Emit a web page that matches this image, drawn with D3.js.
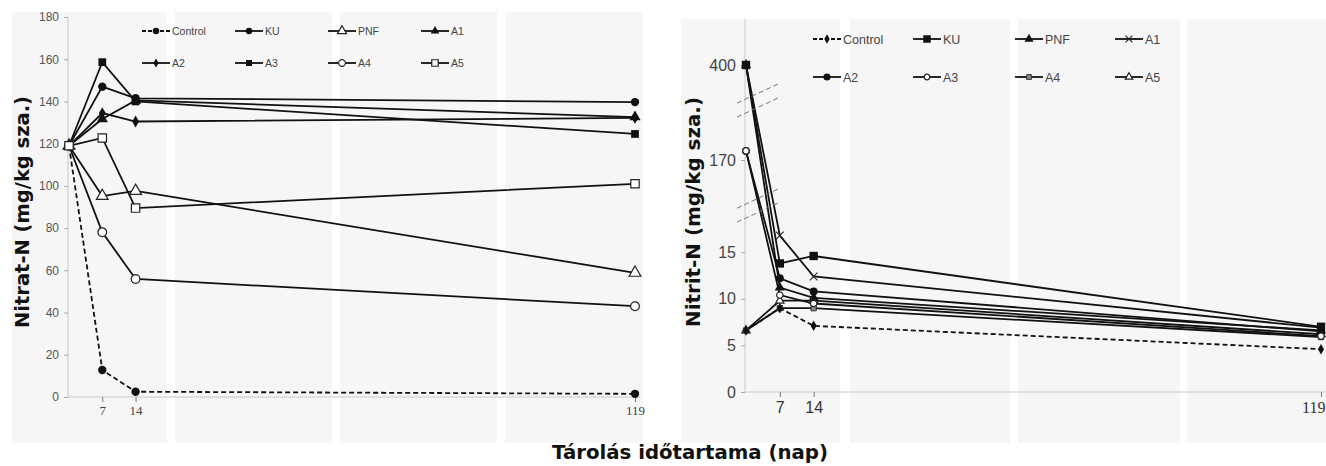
<!DOCTYPE html>
<html>
<head>
<meta charset="utf-8">
<script src="https://cdn.jsdelivr.net/npm/d3@7"></script>
<style>
body { margin: 0; background: #fff; }
svg { display: block; }
</style>
</head>
<body>
<div id="content"></div>
<script>
/* Constants */
const WIDTH = 1326;
const HEIGHT = 466;

const days = [0, 7, 14, 119];
const seriesNames = ["Control", "KU", "PNF", "A1", "A2", "A3", "A4", "A5"];

// Nitrat-N (mg/kg sza.)
const nitratControl = [119, 12.8, 2.5, 1.5];
const nitratKU      = [119, 147, 141.5, 139.7];
const nitratPNF     = [119, 95.2, 97.6, 58.8];
const nitratA1      = [119, 131.7, 140.5, 132.6];
const nitratA2      = [119, 134.5, 130.5, 132.2];
const nitratA3      = [119, 158.6, 140, 124.6];
const nitratA4      = [119, 78, 55.9, 43];
const nitratA5      = [119, 122.7, 89.5, 101];

// Nitrit-N (mg/kg sza.)
const nitritControl = [6.6, 9.0, 7.1, 4.6];
const nitritKU      = [400, 13.8, 14.6, 7.0];
const nitritPNF     = [400, 11.2, 10.1, 6.6];
const nitritA1      = [400, 16.8, 12.4, 6.9];
const nitritA2      = [192, 12.2, 10.8, 6.5];
const nitritA3      = [192, 10.4, 9.5, 6.0];
const nitritA4      = [6.6, 9.0, 9.0, 5.9];
const nitritA5      = [6.6, 9.8, 9.8, 6.2];

const nitratTicks = [0, 20, 40, 60, 80, 100, 120, 140, 160, 180];
const nitritTicks = [0, 5, 10, 15, 170, 400];
const nitritBreaks = [46, 315];   // where the axis is cut
const xTicks = [7, 14, 119];

const nitratMarkers = ["circle", "circle", "otriangle", "triangle", "diamond", "square", "ocircle", "osquare"];
const nitritMarkers = ["diamond", "square", "triangle", "times", "circle", "ocircle", "hsquare", "otriangle"];
// order the right-hand markers are painted in (last one ends up on top)
const nitritDrawOrder = [7, 6, 3, 2, 4, 5, 1, 0];

const nitratRows = [nitratControl, nitratKU, nitratPNF, nitratA1, nitratA2, nitratA3, nitratA4, nitratA5];
const nitritRows = [nitritControl, nitritKU, nitritPNF, nitritA1, nitritA2, nitritA3, nitritA4, nitritA5];

const svg = d3.select("#content").append("svg").attr("width", WIDTH).attr("height", HEIGHT);

// light grey panels (the scan shows faint white stripes between them)
const panelColor = "#f6f6f6";
[[12, 167], [175, 332], [340, 497], [505, 643]].forEach(p => {
    svg.append("rect").attr("x", p[0]).attr("y", 12).attr("width", p[1] - p[0]).attr("height", 431).attr("fill", panelColor);
});
[[681, 840], [850, 1010], [1018, 1180], [1187, 1326]].forEach(p => {
    svg.append("rect").attr("x", p[0]).attr("y", 19).attr("width", p[1] - p[0]).attr("height", 424).attr("fill", panelColor);
});

function markerPath(type, size) {
    let sym = d3.symbolCircle;
    if (type.indexOf("triangle") >= 0) sym = d3.symbolTriangle;
    else if (type.indexOf("square") >= 0) sym = d3.symbolSquare;
    else if (type == "diamond") sym = d3.symbolDiamond;
    else if (type == "times") sym = d3.symbolTimes;
    return d3.symbol().type(sym).size(size)();
}

function drawMarker(g, type, x, y, size) {
    let p = g.append("path").attr("d", markerPath(type, size)).attr("transform", "translate(" + [x, y] + ")");
    if (type == "times") {
        p.attr("fill", "none").attr("stroke", "#222").attr("stroke-width", 1.1);
    } else if (type == "hsquare") {
        p.attr("fill", "#888").attr("stroke", "#333").attr("stroke-width", 1);
    } else if (type[0] == "o") {
        p.attr("fill", "#fff").attr("stroke", "#222").attr("stroke-width", 1.2);
    } else {
        p.attr("fill", "#111");
    }
}

const leftSizes = {circle: 55, ocircle: 60, triangle: 55, otriangle: 60, square: 60, osquare: 70, diamond: 40};
const rightSizes = {diamond: 32, square: 70, triangle: 45, times: 40, circle: 50, ocircle: 32, hsquare: 28, otriangle: 30};

/* ---------- left chart: Nitrat-N ---------- */
const xL = d3.scaleLinear().domain([0, 119]).range([69, 635]);
const yL = d3.scaleLinear().domain([0, 180]).range([397, 17]);

const left = svg.append("g");

left.append("line").attr("x1", 68).attr("x2", 68).attr("y1", yL(180)).attr("y2", yL(0)).attr("stroke", "#c8c8c8");
left.append("line").attr("x1", 68).attr("x2", 640).attr("y1", yL(0)).attr("y2", yL(0)).attr("stroke", "#c8c8c8");

let yAxisL = left.append("g").attr("transform", "translate(68,0)")
    .call(d3.axisLeft(yL).tickValues(nitratTicks).tickSize(4).tickSizeOuter(0));
yAxisL.select(".domain").remove();
yAxisL.selectAll("line").attr("stroke", "#aaa");
yAxisL.selectAll("text").attr("fill", "#555").attr("x", -9)
    .style("font-family", "Liberation Sans, Arial, sans-serif").style("font-size", "12px");

let xAxisL = left.append("g").attr("transform", "translate(0," + yL(0) + ")")
    .call(d3.axisBottom(xL).tickValues(xTicks).tickSize(5).tickSizeOuter(0));
xAxisL.select(".domain").remove();
xAxisL.selectAll("line").attr("stroke", "#777");
xAxisL.selectAll("text").attr("fill", "#444").attr("y", 9)
    .style("font-family", "Liberation Serif, serif").style("font-size", "13px");

const lineL = d3.line().x((d, i) => xL(days[i])).y(d => yL(d));

nitratRows.forEach((row, k) => {
    left.append("path").attr("d", lineL(row)).attr("fill", "none")
        .attr("stroke", "#111").attr("stroke-width", 1.8)
        .attr("stroke-dasharray", k == 0 ? "5,3" : null);
});
nitratRows.forEach((row, k) => {
    row.forEach((v, i) => drawMarker(left, nitratMarkers[k], xL(days[i]), yL(v), leftSizes[nitratMarkers[k]]));
});

// legend (2 rows x 4 columns)
const legXL = [142, 235, 328, 421];
const legYL = [31, 63];
seriesNames.forEach((name, k) => {
    let lx = legXL[k % 4], ly = legYL[Math.floor(k / 4)];
    left.append("line").attr("x1", lx).attr("x2", lx + 28).attr("y1", ly).attr("y2", ly)
        .attr("stroke", "#111").attr("stroke-width", 1.8).attr("stroke-dasharray", k == 0 ? "4,2" : null);
    drawMarker(left, nitratMarkers[k], lx + 14, ly, leftSizes[nitratMarkers[k]] * 0.6);
    left.append("text").attr("x", lx + 30).attr("y", ly + 3.5).text(name)
        .attr("fill", "#444").style("font-family", "Liberation Sans, Arial, sans-serif").style("font-size", "10.5px");
});

left.append("text").attr("transform", "translate(29,212) rotate(-90)").attr("text-anchor", "middle")
    .attr("textLength", 232).attr("lengthAdjust", "spacingAndGlyphs")
    .style("font-family", "DejaVu Sans, sans-serif").style("font-weight", "bold").style("font-size", "19px")
    .attr("fill", "#111").text("Nitrat-N (mg/kg sza.)");

/* ---------- right chart: Nitrit-N with broken axis ---------- */
const xR = d3.scaleLinear().domain([0, 119]).range([746, 1321]);
const yR = d3.scaleLinear().domain([0, 19, 170, 400]).range([392, 215, 160, 65]);

const right = svg.append("g");

right.append("line").attr("x1", 745).attr("x2", 745).attr("y1", 19).attr("y2", yR(0)).attr("stroke", "#c8c8c8");
right.append("line").attr("x1", 745).attr("x2", 1326).attr("y1", yR(0)).attr("y2", yR(0)).attr("stroke", "#c8c8c8");

let yAxisR = right.append("g").attr("transform", "translate(745,0)")
    .call(d3.axisLeft(yR).tickValues(nitritTicks).tickSize(4).tickSizeOuter(0));
yAxisR.select(".domain").remove();
yAxisR.selectAll("line").attr("stroke", "#aaa");
yAxisR.selectAll("text").attr("fill", "#444").attr("x", -9)
    .style("font-family", "Liberation Sans, Arial, sans-serif").style("font-size", "16px");

let xAxisR = right.append("g").attr("transform", "translate(0," + yR(0) + ")")
    .call(d3.axisBottom(xR).tickValues(xTicks).tickSize(5).tickSizeOuter(0));
xAxisR.select(".domain").remove();
xAxisR.selectAll("line").attr("stroke", "#777");
xAxisR.selectAll("text").attr("fill", "#333").attr("y", 10)
    .style("font-family", d => d == 119 ? "Liberation Serif, serif" : "Liberation Sans, Arial, sans-serif")
    .style("font-size", "16px");
// the last label sits against the right edge, keep it inside the page
xAxisR.selectAll("text").filter(d => d == 119)
    .attr("text-anchor", "end").attr("x", WIDTH - 1 - xR(119));

const lineR = d3.line().x((d, i) => xR(days[i])).y(d => yR(d));

nitritRows.forEach((row, k) => {
    right.append("path").attr("d", lineR(row)).attr("fill", "none")
        .attr("stroke", "#111").attr("stroke-width", 1.8)
        .attr("stroke-dasharray", k == 0 ? "5,3" : null);
});
nitritDrawOrder.forEach(k => {
    nitritRows[k].forEach((v, i) => drawMarker(right, nitritMarkers[k], xR(days[i]), yR(v), rightSizes[nitritMarkers[k]]));
});

// axis break marks: two dashed diagonal strokes at each cut
nitritBreaks.forEach(b => {
    let cy = yR(b);
    [-7, 7].forEach(off => {
        right.append("line").attr("x1", 737).attr("x2", 780)
            .attr("y1", cy + off + 10).attr("y2", cy + off - 10)
            .attr("stroke", "#777").attr("stroke-width", 1).attr("stroke-dasharray", "5,3");
    });
});

const legXR = [813, 913, 1015, 1115];
const legYR = [39, 77];
seriesNames.forEach((name, k) => {
    let lx = legXR[k % 4], ly = legYR[Math.floor(k / 4)];
    right.append("line").attr("x1", lx).attr("x2", lx + 28).attr("y1", ly).attr("y2", ly)
        .attr("stroke", "#111").attr("stroke-width", 1.8).attr("stroke-dasharray", k == 0 ? "4,2" : null);
    drawMarker(right, nitritMarkers[k], lx + 14, ly, rightSizes[nitritMarkers[k]] * 0.8);
    right.append("text").attr("x", lx + 30).attr("y", ly + 4.5).text(name)
        .attr("fill", "#444").style("font-family", "Liberation Sans, Arial, sans-serif").style("font-size", "12.5px");
});

right.append("text").attr("transform", "translate(700,212) rotate(-90)").attr("text-anchor", "middle")
    .attr("textLength", 230).attr("lengthAdjust", "spacingAndGlyphs")
    .style("font-family", "DejaVu Sans, sans-serif").style("font-weight", "bold").style("font-size", "19px")
    .attr("fill", "#111").text("Nitrit-N (mg/kg sza.)");

/* shared x title */
svg.append("text").attr("x", 690).attr("y", 459).attr("text-anchor", "middle")
    .attr("textLength", 276).attr("lengthAdjust", "spacingAndGlyphs")
    .style("font-family", "DejaVu Sans, sans-serif").style("font-weight", "bold").style("font-size", "19px")
    .attr("fill", "#111").text("Tárolás időtartama (nap)");
</script>
</body>
</html>
